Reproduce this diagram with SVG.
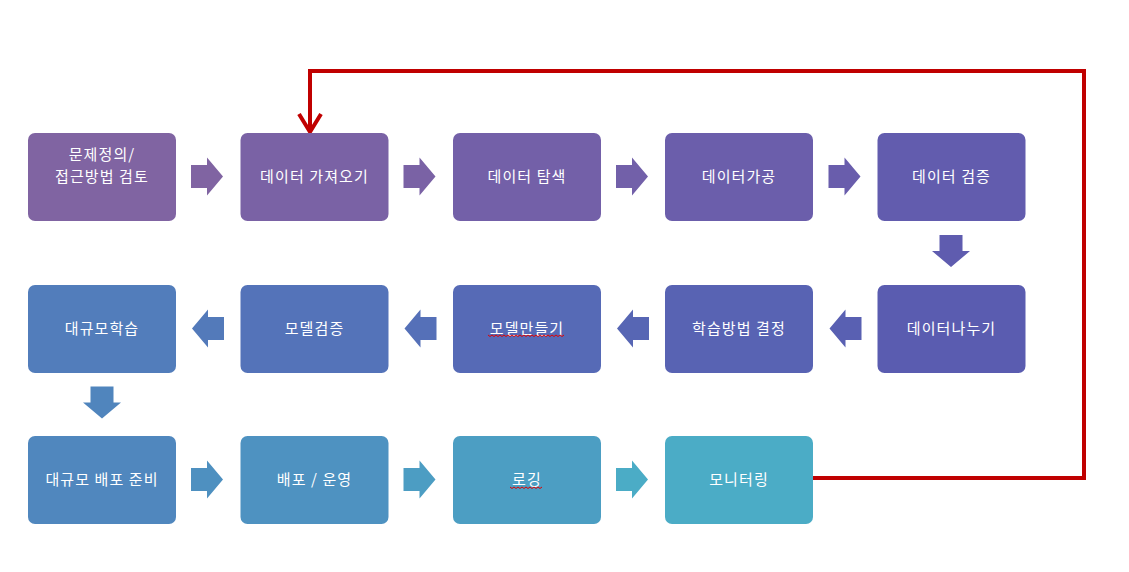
<svg xmlns="http://www.w3.org/2000/svg" width="1129" height="572" viewBox="0 0 1129 572">
<style>
.box{stroke:none}
.lbl{font-family:"Noto Sans CJK KR","Noto Sans",sans-serif;font-size:15px;letter-spacing:1.1px;fill:#ffffff;text-anchor:middle}
.red{fill:none;stroke:#C00000;stroke-width:4}
.sq{fill:none;stroke:#E00000;stroke-width:1}
</style>
<defs>
<path id="ar" d="M0,-11.5 H16 V-19 L32,0 L16,19 V11.5 H0 Z"/>
<marker id="chev" markerUnits="userSpaceOnUse" markerWidth="40" markerHeight="40" refX="0" refY="0" viewBox="-25 -20 40 40" orient="auto" overflow="visible">
<path d="M-18,-11 L0,0 L-18,11" fill="none" stroke="#C00000" stroke-width="4"/>
</marker>
</defs>
<rect width="1129" height="572" fill="#ffffff"/>
<g id="connectors">
<use href="#ar" transform="translate(191,176.5)" fill="#8064A2"/>
<use href="#ar" transform="translate(403.5,176.5)" fill="#7A62A5"/>
<use href="#ar" transform="translate(616,176.5)" fill="#7260A9"/>
<use href="#ar" transform="translate(828.5,176.5)" fill="#695DAC"/>
<use href="#ar" transform="translate(951,235) rotate(90)" fill="#5F5CAF"/>
<use href="#ar" transform="translate(861.5,328.5) scale(-1,1)" fill="#5960B2"/>
<use href="#ar" transform="translate(649,328.5) scale(-1,1)" fill="#5766B4"/>
<use href="#ar" transform="translate(436.5,328.5) scale(-1,1)" fill="#5570B8"/>
<use href="#ar" transform="translate(224,328.5) scale(-1,1)" fill="#537ABA"/>
<use href="#ar" transform="translate(102,386.5) rotate(90)" fill="#5085BD"/>
<use href="#ar" transform="translate(191,479.5)" fill="#4E90C0"/>
<use href="#ar" transform="translate(403.5,479.5)" fill="#4C9DC3"/>
<use href="#ar" transform="translate(616,479.5)" fill="#4BACC6"/>
<path class="red" d="M811,478 H1084 V71 H310 V132" marker-end="url(#chev)"/>
</g>
<g id="n1"><rect class="box" x="28" y="133" width="148" height="88" rx="7" fill="#8064A2"/><text class="lbl" x="102" y="160">문제정의/</text><text class="lbl" x="102" y="182">접근방법 검토</text></g>
<g id="n2"><rect class="box" x="240.5" y="133" width="148" height="88" rx="7" fill="#7A62A5"/><text class="lbl" x="314.5" y="182">데이터 가져오기</text></g>
<g id="n3"><rect class="box" x="453" y="133" width="148" height="88" rx="7" fill="#7360A8"/><text class="lbl" x="527" y="182">데이터 탐색</text></g>
<g id="n4"><rect class="box" x="665" y="133" width="148" height="88" rx="7" fill="#6B5EAB"/><text class="lbl" x="739" y="182">데이터가공</text></g>
<g id="n5"><rect class="box" x="877.5" y="133" width="148" height="88" rx="7" fill="#625CAE"/><text class="lbl" x="951.5" y="182">데이터 검증</text></g>
<g id="n6"><rect class="box" x="877.5" y="285" width="148" height="88" rx="7" fill="#5A5CB0"/><text class="lbl" x="951.5" y="334">데이터나누기</text></g>
<g id="n7"><rect class="box" x="665" y="285" width="148" height="88" rx="7" fill="#5863B3"/><text class="lbl" x="739" y="334">학습방법 결정</text></g>
<g id="n8"><rect class="box" x="453" y="285" width="148" height="88" rx="7" fill="#566AB6"/><text class="lbl" x="527" y="334">모델만들기</text>
<path class="sq" d="M488,335 l2,1.5 l2,-1.5 l2,1.5 l2,-1.5 l2,1.5 l2,-1.5 l2,1.5 l2,-1.5 l2,1.5 l2,-1.5 l2,1.5 l2,-1.5 l2,1.5 l2,-1.5 l2,1.5 l2,-1.5 l2,1.5 l2,-1.5 l2,1.5 l2,-1.5 l2,1.5 l2,-1.5 l2,1.5 l2,-1.5 l2,1.5 l2,-1.5 l2,1.5 l2,-1.5 l2,1.5 l2,-1.5 l2,1.5 l2,-1.5 l2,1.5 l2,-1.5 l2,1.5 l2,-1.5 l2,1.5 l2,-1.5"/></g>
<g id="n9"><rect class="box" x="240.5" y="285" width="148" height="88" rx="7" fill="#5473B9"/><text class="lbl" x="314.5" y="334">모델검증</text></g>
<g id="n10"><rect class="box" x="28" y="285" width="148" height="88" rx="7" fill="#527DBB"/><text class="lbl" x="102" y="334">대규모학습</text></g>
<g id="n11"><rect class="box" x="28" y="436" width="148" height="88" rx="7" fill="#5087BE"/><text class="lbl" x="102" y="485">대규모 배포 준비</text></g>
<g id="n12"><rect class="box" x="240.5" y="436" width="148" height="88" rx="7" fill="#4E92C1"/><text class="lbl" x="314.5" y="485">배포 / 운영</text></g>
<g id="n13"><rect class="box" x="453" y="436" width="148" height="88" rx="7" fill="#4C9EC3"/><text class="lbl" x="527" y="485">로깅</text>
<path class="sq" d="M510,487 l2,1.5 l2,-1.5 l2,1.5 l2,-1.5 l2,1.5 l2,-1.5 l2,1.5 l2,-1.5 l2,1.5 l2,-1.5 l2,1.5 l2,-1.5 l2,1.5 l2,-1.5 l2,1.5 l2,-1.5"/></g>
<g id="n14"><rect class="box" x="665" y="436" width="148" height="88" rx="7" fill="#4BACC6"/><text class="lbl" x="739" y="485">모니터링</text></g>
</svg>
